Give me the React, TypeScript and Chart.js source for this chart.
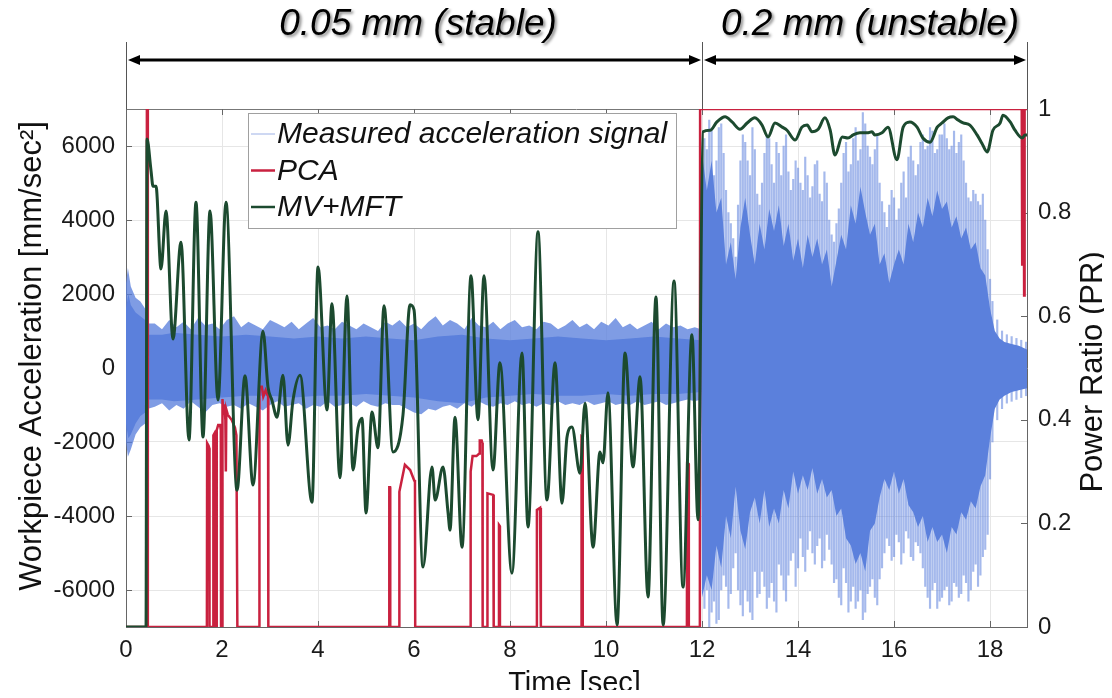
import React, { useEffect, useRef } from "react";
import { Chart, registerables } from "chart.js";

Chart.register(...registerables);

const W = 1096;
const H = 682;
const FONT = "'Liberation Sans', Arial, Helvetica, sans-serif";

// Axis ticks
const xTicks = [0, 2, 4, 6, 8, 10, 12, 14, 16, 18];
const accTicks = [-6000, -4000, -2000, 0, 2000, 4000, 6000];
const prTicks = [0, 0.2, 0.4, 0.6, 0.8, 1];
const X_MAX = 18.77;

// Region annotations (time [sec])
const regions = [
  { label: "0.05 mm (stable)", from: 0, to: 12 },
  { label: "0.2 mm (unstable)", from: 12, to: X_MAX },
];

// MV+MFT power ratio: [time, PR]
const mvPoints: [number, number][] = [
  [0, 0], [0.417, 0], [0.4375, 0.942], [0.52, 0.882], [0.5625, 0.851], [0.625, 0.851],
  [0.729, 0.691], [0.833, 0.803], [0.979, 0.556], [1.146, 0.743], [1.3125, 0.361],
  [1.458, 0.82], [1.604, 0.367], [1.75, 0.803], [1.917, 0.438], [2.083, 0.82],
  [2.3125, 0.264], [2.479, 0.485], [2.646, 0.274], [2.854, 0.571], [2.958, 0.463],
  [3.04, 0.438], [3.146, 0.405], [3.27, 0.486], [3.375, 0.351], [3.479, 0.438],
  [3.625, 0.486], [3.875, 0.241], [4.0, 0.695], [4.1875, 0.419], [4.29, 0.624],
  [4.458, 0.288], [4.604, 0.639], [4.729, 0.303], [4.833, 0.384], [4.917, 0.403],
  [5.0, 0.22], [5.125, 0.415], [5.25, 0.346], [5.375, 0.62], [5.5625, 0.338],
  [5.77, 0.409], [5.917, 0.622], [6.0, 0.612], [6.1875, 0.116], [6.375, 0.309],
  [6.44, 0.245], [6.604, 0.309], [6.71, 0.22], [6.75, 0.187], [6.854, 0.405],
  [7.0, 0.154], [7.1875, 0.678], [7.333, 0.4], [7.458, 0.678], [7.646, 0.303],
  [7.79, 0.51], [8.04, 0.104], [8.25, 0.529], [8.375, 0.193], [8.583, 0.763],
  [8.77, 0.245], [8.9375, 0.51], [9.083, 0.239], [9.1875, 0.367], [9.29, 0.386],
  [9.458, 0.297], [9.5625, 0.432], [9.73, 0.154], [9.875, 0.338], [9.9375, 0.317],
  [10.04, 0.452], [10.23, 0.004], [10.396, 0.529], [10.5625, 0.309], [10.71, 0.483],
  [10.875, 0.058], [11.04, 0.637], [11.19, 0.004], [11.417, 0.668], [11.604, 0.077],
  [11.79, 0.564], [11.917, 0.207], [12.02, 0.956],
  [12.17, 0.959], [12.31, 0.975], [12.48, 0.985], [12.625, 0.975], [12.79, 0.961],
  [12.94, 0.973], [13.1, 0.983], [13.25, 0.969], [13.375, 0.946], [13.52, 0.973],
  [13.67, 0.965], [13.77, 0.959], [13.94, 0.94], [14.08, 0.965], [14.19, 0.969],
  [14.29, 0.956], [14.42, 0.961], [14.56, 0.983], [14.67, 0.959], [14.77, 0.911],
  [14.92, 0.946], [15.04, 0.944], [15.15, 0.95], [15.29, 0.954], [15.44, 0.954],
  [15.54, 0.956], [15.6, 0.95], [15.75, 0.954], [15.875, 0.965], [16.06, 0.902],
  [16.19, 0.965], [16.33, 0.975], [16.48, 0.965], [16.6, 0.944], [16.75, 0.936],
  [16.9, 0.965], [17.0, 0.973], [17.125, 0.983], [17.23, 0.985], [17.33, 0.979],
  [17.44, 0.973], [17.58, 0.969], [17.73, 0.95], [17.83, 0.934], [17.94, 0.917],
  [18.06, 0.959], [18.21, 0.973], [18.27, 0.988], [18.42, 0.975], [18.52, 0.959],
  [18.67, 0.944], [18.73, 0.95], [18.77, 0.95],
];

// PCA power ratio: [time, PR]
const pcaPoints: [number, number][] = [
  [0, 0], [0.43, 0], [0.435, 1], [0.45, 1], [0.455, 0],
  [1.685, 0], [1.69, 0.355], [1.72, 0.35], [1.735, 0.345], [1.74, 0],
  [1.815, 0], [1.82, 0.37], [1.85, 0.375], [1.865, 0.37], [1.87, 0],
  [1.885, 0], [1.89, 0.38], [1.92, 0.39], [1.96, 0.39], [1.975, 0.38], [1.98, 0],
  [2.005, 0], [2.01, 0.44], [2.03, 0.41], [2.05, 0.43], [2.07, 0.4], [2.08, 0.3],
  [2.09, 0.42], [2.12, 0.41], [2.2, 0.4], [2.27, 0.385], [2.3, 0.37], [2.32, 0],
  [2.775, 0], [2.78, 0.464], [2.83, 0.464], [2.86, 0.445], [2.91, 0.457], [2.96, 0.445], [2.965, 0],
  [5.48, 0], [5.485, 0.27], [5.5, 0.27], [5.505, 0],
  [5.69, 0], [5.695, 0.261], [5.81, 0.313], [5.92, 0.303], [6.0, 0.284], [6.02, 0.28], [6.025, 0],
  [7.175, 0], [7.18, 0.3], [7.22, 0.33], [7.3, 0.33], [7.36, 0.335], [7.37, 0.36], [7.41, 0.36], [7.425, 0.355], [7.43, 0],
  [7.525, 0], [7.53, 0.258], [7.65, 0.255], [7.66, 0],
  [7.765, 0], [7.77, 0.197], [7.785, 0.195], [7.79, 0],
  [8.555, 0], [8.56, 0.226], [8.625, 0.23], [8.64, 0.225], [8.645, 0],
  [9.485, 0], [9.49, 0.367], [9.51, 0.365], [9.515, 0],
  [11.685, 0], [11.69, 0.316], [11.72, 0.315], [11.725, 0],
  [11.955, 0], [11.96, 1], [18.66, 1], [18.67, 0.7], [18.68, 1], [18.69, 0.72],
  [18.7, 1], [18.71, 0.64], [18.72, 1], [18.73, 1], [18.77, 1],
];

// Measured acceleration, dense core envelope: [time, upper, lower] (mm/sec^2)
const coreBand: [number, number, number][] = [
  [0, 1600, -1500], [0.05, 2000, -1900], [0.1, 1700, -1800], [0.2, 1500, -1500],
  [0.3, 1400, -1300], [0.4, 1300, -1200], [0.46, 900, -850], [0.75, 900, -850],
  [1.0, 950, -900], [1.5, 900, -850], [2.0, 850, -800], [2.5, 900, -750],
  [3.0, 850, -750], [3.5, 800, -800], [4.0, 850, -750], [4.5, 800, -750],
  [5.0, 850, -700], [5.5, 800, -750], [6.0, 750, -800], [6.5, 850, -900],
  [7.0, 900, -950], [7.5, 800, -800], [8.0, 750, -750], [8.5, 800, -700],
  [9.0, 850, -750], [9.5, 800, -750], [10.0, 750, -700], [10.5, 800, -750],
  [11.0, 850, -700], [11.5, 800, -700], [11.98, 750, -650],
  [12.0, 5800, -6200], [12.1, 4800, -5600], [12.2, 5600, -6000], [12.3, 4200, -4800],
  [12.4, 4600, -5400], [12.5, 2800, -4000], [12.6, 3400, -4600], [12.7, 2400, -3200],
  [12.8, 3800, -4400], [12.9, 4600, -4900], [13.0, 3600, -3900], [13.1, 2800, -3500],
  [13.2, 3900, -4200], [13.3, 3200, -3300], [13.4, 4300, -4300], [13.5, 3700, -3800],
  [13.6, 4400, -4200], [13.7, 3300, -3300], [13.8, 3900, -3800], [13.9, 2900, -2800],
  [14.0, 3500, -3400], [14.1, 2700, -2900], [14.2, 3600, -3300], [14.3, 3000, -2700],
  [14.4, 3500, -3400], [14.5, 2800, -3000], [14.6, 3200, -3500], [14.7, 2200, -3300],
  [14.8, 2900, -4000], [14.9, 3600, -3800], [15.0, 3200, -4600], [15.1, 4400, -4800],
  [15.2, 3900, -5300], [15.3, 4900, -5000], [15.4, 4200, -5500], [15.5, 3600, -4400],
  [15.6, 3900, -4200], [15.7, 2800, -3500], [15.8, 3100, -3000], [15.9, 2300, -3300],
  [16.0, 2800, -2800], [16.1, 3200, -3400], [16.2, 2800, -3000], [16.3, 3900, -3700],
  [16.4, 3400, -3900], [16.5, 4200, -4300], [16.6, 3800, -4000], [16.7, 4600, -4700],
  [16.8, 4100, -4300], [16.9, 4800, -4700], [17.0, 4300, -4500], [17.1, 4500, -5000],
  [17.2, 3800, -4300], [17.3, 4100, -4500], [17.4, 3500, -3900], [17.5, 3800, -4100],
  [17.6, 3200, -3600], [17.7, 3400, -3800], [17.8, 2700, -3200], [17.9, 2500, -2900],
  [18.0, 1600, -1900], [18.1, 1000, -1100], [18.2, 800, -850], [18.3, 700, -750],
  [18.45, 650, -650], [18.6, 600, -600], [18.77, 500, -550],
];

// Measured acceleration, bristly edge in the stable cut: [time, upper, lower]
const fuzzBand: [number, number, number][] = [
  [0, 2300, -2000], [0.04, 2700, -2400], [0.1, 2200, -2200], [0.2, 1900, -1800],
  [0.3, 1800, -1600], [0.4, 1600, -1500], [0.46, 1200, -1100],
  [0.6, 1200, -1050], [0.75, 1050, -950], [0.9, 1300, -1150], [1.05, 1100, -1000],
  [1.2, 1250, -1100], [1.35, 1050, -900], [1.5, 1350, -1050], [1.65, 1150, -1200],
  [1.8, 1200, -1000], [1.95, 1050, -950], [2.1, 1300, -1050], [2.25, 1400, -1000],
  [2.4, 1100, -1100], [2.55, 1250, -950], [2.7, 1150, -1050], [2.85, 1050, -1150],
  [3.0, 1300, -1000], [3.15, 1200, -900], [3.3, 1100, -1050], [3.45, 1250, -1000],
  [3.6, 1050, -950], [3.75, 1200, -1100], [3.9, 1350, -1000], [4.05, 1100, -1050],
  [4.2, 1150, -900], [4.35, 1050, -1050], [4.5, 1250, -1000], [4.65, 1150, -950],
  [4.8, 1050, -1050], [4.95, 1200, -900], [5.1, 1100, -1000], [5.25, 1000, -1050],
  [5.4, 1250, -950], [5.55, 1150, -1000], [5.7, 1300, -1000], [5.85, 1100, -1100],
  [6.0, 1200, -1200], [6.15, 1050, -1250], [6.3, 1250, -1100], [6.45, 1400, -1150],
  [6.6, 1150, -1050], [6.75, 1300, -1000], [6.9, 1200, -1100], [7.05, 1050, -950],
  [7.2, 1350, -1050], [7.35, 1150, -900], [7.5, 1100, -1000], [7.65, 1250, -1050],
  [7.8, 1050, -950], [7.95, 1200, -1000], [8.1, 1300, -900], [8.25, 1100, -1000],
  [8.4, 1150, -950], [8.55, 1050, -1050], [8.7, 1250, -950], [8.85, 1200, -1000],
  [9.0, 1050, -900], [9.15, 1150, -1000], [9.3, 1300, -950], [9.45, 1100, -1000],
  [9.6, 1200, -900], [9.75, 1050, -1000], [9.9, 1250, -950], [10.05, 1150, -900],
  [10.2, 1350, -1000], [10.35, 1100, -950], [10.5, 1200, -1000], [10.65, 1050, -900],
  [10.8, 1150, -1000], [10.95, 1250, -950], [11.1, 1050, -900], [11.25, 1200, -1000],
  [11.4, 1100, -950], [11.55, 1150, -900], [11.7, 1050, -850], [11.85, 1100, -900],
  [11.98, 1050, -850],
];

// Measured acceleration, spike extremes in the unstable cut: [time, max, min]
const spikes: [number, number, number][] = [
  [12.05, 6200, -6500], [12.1, 5900, -6000], [12.15, 6700, -7000], [12.2, 6400, -6600],
  [12.25, 5200, -6300], [12.3, 5600, -6900], [12.35, 6500, -6800], [12.4, 6600, -6000],
  [12.45, 5800, -5600], [12.5, 4800, -5900], [12.55, 4200, -6500], [12.6, 3900, -6100],
  [12.65, 3500, -5400], [12.7, 3000, -5000], [12.75, 4400, -6000], [12.8, 5600, -6400],
  [12.85, 6300, -6700], [12.9, 6100, -6000], [12.95, 5600, -6300], [13.0, 5200, -6600],
  [13.05, 6500, -6800], [13.1, 5900, -5500], [13.15, 4700, -6200], [13.2, 4400, -6100],
  [13.25, 5000, -5500], [13.3, 5800, -5900], [13.35, 6300, -6500], [13.4, 6200, -6200],
  [13.45, 5500, -5800], [13.5, 5000, -6300], [13.55, 6100, -6600], [13.6, 5800, -5300],
  [13.65, 5200, -5600], [13.7, 6000, -6000], [13.75, 6300, -6300], [13.8, 5300, -5600],
  [13.85, 4800, -5200], [13.9, 5100, -5000], [13.95, 5600, -5900], [14.0, 5400, -5400],
  [14.05, 5000, -4600], [14.1, 4800, -5100], [14.15, 5700, -5500], [14.2, 5200, -4900],
  [14.25, 4600, -4400], [14.3, 4900, -5000], [14.35, 5500, -5300], [14.4, 5600, -4800],
  [14.45, 4700, -4600], [14.5, 4500, -5400], [14.55, 5300, -5200], [14.6, 5000, -4500],
  [14.65, 4000, -4900], [14.7, 3600, -5300], [14.75, 3400, -5800], [14.8, 3900, -5700],
  [14.85, 4300, -6200], [14.9, 5000, -6400], [14.95, 5800, -5400], [15.0, 6100, -5800],
  [15.05, 5300, -6600], [15.1, 5500, -6300], [15.15, 6200, -5900], [15.2, 6500, -6500],
  [15.25, 5600, -6300], [15.3, 5900, -6000], [15.35, 6900, -6800], [15.4, 6600, -6600],
  [15.45, 6000, -6100], [15.5, 5700, -5900], [15.55, 5500, -5700], [15.6, 5900, -6200],
  [15.65, 6300, -6400], [15.7, 5000, -5700], [15.75, 4500, -5400], [15.8, 4200, -5000],
  [15.85, 3800, -4600], [15.9, 4400, -4800], [15.95, 4800, -5200], [16.0, 4600, -5100],
  [16.05, 4000, -4500], [16.1, 4300, -4700], [16.15, 5000, -5300], [16.2, 5300, -5000],
  [16.25, 4600, -4400], [16.3, 5700, -4600], [16.35, 6000, -5100], [16.4, 5600, -5200],
  [16.45, 5200, -4700], [16.5, 5500, -4800], [16.55, 6100, -5000], [16.6, 6300, -5400],
  [16.65, 5900, -5900], [16.7, 6000, -6200], [16.75, 6500, -6500], [16.8, 6400, -6000],
  [16.85, 5800, -5800], [16.9, 5900, -6500], [16.95, 6300, -6300], [17.0, 6300, -6200],
  [17.05, 6600, -6000], [17.1, 6200, -5900], [17.15, 5900, -6400], [17.2, 6000, -6300],
  [17.25, 6400, -5800], [17.3, 5800, -5900], [17.35, 6100, -6200], [17.4, 6300, -6100],
  [17.45, 5600, -5600], [17.5, 5000, -5800], [17.55, 4600, -6300], [17.6, 4500, -6000],
  [17.65, 4800, -5500], [17.7, 4700, -5300], [17.75, 4500, -5900], [17.8, 4400, -5600],
  [17.85, 4700, -5100], [17.9, 4000, -4900], [17.95, 3200, -4500], [18.0, 2400, -3000],
  [18.05, 1800, -2000], [18.15, 1300, -1400], [18.25, 1000, -1100], [18.35, 900, -950],
  [18.45, 850, -900], [18.55, 800, -850], [18.65, 750, -800], [18.75, 700, -750],
];

const BLUE = "#5b80dc";
const RED = "#c9213f";
const GREEN = "#1c4a2f";

const legendItems = [
  { label: "Measured acceleration signal", color: "#9db1e6", width: 1 },
  { label: "PCA", color: RED, width: 2.5 },
  { label: "MV+MFT", color: GREEN, width: 2.5 },
];

const overlay = {
  id: "overlay",
  beforeDatasetsDraw(chart: any) {
    const { ctx, chartArea: a, scales } = chart;
    ctx.save();
    ctx.strokeStyle = "#777";
    ctx.lineWidth = 1;
    ctx.beginPath();
    ctx.moveTo(a.left, a.top + 0.5);
    ctx.lineTo(a.right, a.top + 0.5);
    ctx.stroke();
    ctx.strokeStyle = "#666";
    ctx.beginPath();
    xTicks.forEach((v) => {
      const px = Math.round(scales.x.getPixelForValue(v)) + 0.5;
      ctx.moveTo(px, a.bottom);
      ctx.lineTo(px, a.bottom - 6);
      ctx.moveTo(px, a.top);
      ctx.lineTo(px, a.top + 6);
    });
    accTicks.forEach((v) => {
      const py = Math.round(scales.y.getPixelForValue(v)) + 0.5;
      ctx.moveTo(a.left, py);
      ctx.lineTo(a.left + 6, py);
    });
    prTicks.forEach((v) => {
      const py = Math.round(scales.y1.getPixelForValue(v)) + 0.5;
      ctx.moveTo(a.right, py);
      ctx.lineTo(a.right - 6, py);
    });
    ctx.stroke();
    ctx.restore();
  },
  afterDraw(chart: any) {
    const { ctx, chartArea: a, scales } = chart;
    ctx.save();

    // Legend box
    const lx = a.left + 122;
    const ly = a.top + 4;
    const lw = 428;
    const lh = 115;
    ctx.fillStyle = "#fff";
    ctx.fillRect(lx, ly, lw, lh);
    ctx.strokeStyle = "#a0a0a0";
    ctx.lineWidth = 1;
    ctx.strokeRect(lx + 0.5, ly + 0.5, lw, lh);
    ctx.font = `italic 30px ${FONT}`;
    ctx.textBaseline = "middle";
    ctx.textAlign = "left";
    legendItems.forEach((it, i) => {
      const cy = ly + 21 + i * 36.5;
      ctx.strokeStyle = it.color;
      ctx.lineWidth = it.width;
      ctx.beginPath();
      ctx.moveTo(lx + 3, cy);
      ctx.lineTo(lx + 27, cy);
      ctx.stroke();
      ctx.fillStyle = "#111";
      ctx.fillText(it.label, lx + 29, cy + 1);
    });

    // Region arrows and labels
    const arrowY = 52;
    const edges = [0, 12, X_MAX].map((v) => scales.x.getPixelForValue(v));
    ctx.strokeStyle = "#555";
    ctx.lineWidth = 1;
    ctx.beginPath();
    edges.forEach((e) => {
      const px = Math.round(e) + 0.5;
      ctx.moveTo(px, 34);
      ctx.lineTo(px, a.top);
    });
    ctx.stroke();
    const head = (x: number, dir: number) => {
      ctx.beginPath();
      ctx.moveTo(x, arrowY);
      ctx.lineTo(x + dir * 12, arrowY - 5);
      ctx.lineTo(x + dir * 12, arrowY + 5);
      ctx.closePath();
      ctx.fill();
    };
    regions.forEach((r) => {
      const x0 = scales.x.getPixelForValue(r.from) + 2;
      const x1 = scales.x.getPixelForValue(r.to) - 1;
      ctx.strokeStyle = "#000";
      ctx.fillStyle = "#000";
      ctx.lineWidth = 3;
      ctx.beginPath();
      ctx.moveTo(x0 + 6, arrowY);
      ctx.lineTo(x1 - 6, arrowY);
      ctx.stroke();
      head(x0, 1);
      head(x1, -1);
    });
    ctx.font = `italic 37px ${FONT}`;
    ctx.textAlign = "center";
    ctx.textBaseline = "middle";
    ctx.shadowColor = "rgba(0,0,0,0.45)";
    ctx.shadowOffsetX = 2;
    ctx.shadowOffsetY = 2;
    ctx.shadowBlur = 3;
    ctx.fillStyle = "#000";
    ctx.fillText(regions[0].label, 410, 17);
    ctx.fillText(regions[1].label, 862, 17);
    ctx.shadowColor = "transparent";
    ctx.shadowBlur = 0;
    ctx.shadowOffsetX = 0;
    ctx.shadowOffsetY = 0;

    // Axis titles
    ctx.fillStyle = "#111";
    ctx.textAlign = "center";
    ctx.textBaseline = "middle";
    ctx.font = `29px ${FONT}`;
    ctx.fillText("Time [sec]", (a.left + a.right) / 2 - 2, 676);
    ctx.font = `31px ${FONT}`;
    ctx.save();
    ctx.translate(24, (a.top + a.bottom) / 2);
    ctx.rotate(-Math.PI / 2);
    ctx.fillText("Workpiece Acceleration [mm/sec²]", 12, 0);
    ctx.restore();
    ctx.save();
    ctx.translate(1085, (a.top + a.bottom) / 2);
    ctx.rotate(-Math.PI / 2);
    ctx.fillText("Power Ratio (PR)", -4, 0);
    ctx.restore();

    ctx.restore();
  },
};

export default function App() {
  const ref = useRef<HTMLCanvasElement>(null);

  useEffect(() => {
    const canvas = ref.current;
    if (!canvas) return;
    Chart.defaults.font.family = FONT;

    const chart = new Chart(canvas, {
      type: "line",
      data: {
        datasets: [
          {
            label: "MV+MFT",
            data: mvPoints.map(([x, y]) => ({ x, y })),
            yAxisID: "y1",
            borderColor: GREEN,
            borderWidth: 3,
            pointRadius: 0,
            cubicInterpolationMode: "monotone",
            fill: false,
            order: 0,
          },
          {
            label: "PCA",
            data: pcaPoints.map(([x, y]) => ({ x, y })),
            yAxisID: "y1",
            borderColor: RED,
            borderWidth: 2.5,
            pointRadius: 0,
            tension: 0,
            fill: false,
            order: 1,
          },
          {
            label: "coreHi",
            data: coreBand.map(([x, hi]) => ({ x, y: hi })),
            yAxisID: "y",
            borderWidth: 0,
            borderColor: "rgba(0,0,0,0)",
            pointRadius: 0,
            fill: false,
            order: 3,
          },
          {
            label: "coreLo",
            data: coreBand.map(([x, , lo]) => ({ x, y: lo })),
            yAxisID: "y",
            borderWidth: 0,
            borderColor: "rgba(0,0,0,0)",
            backgroundColor: BLUE,
            pointRadius: 0,
            fill: 2,
            order: 3,
          },
          {
            label: "fuzzHi",
            data: fuzzBand.map(([x, hi]) => ({ x, y: hi })),
            yAxisID: "y",
            borderWidth: 0,
            borderColor: "rgba(0,0,0,0)",
            pointRadius: 0,
            fill: false,
            order: 5,
          },
          {
            label: "fuzzLo",
            data: fuzzBand.map(([x, , lo]) => ({ x, y: lo })),
            yAxisID: "y",
            borderWidth: 0,
            borderColor: "rgba(0,0,0,0)",
            backgroundColor: "rgba(91,128,220,0.78)",
            pointRadius: 0,
            fill: 4,
            order: 5,
          },
          {
            type: "bar",
            label: "spikes",
            data: spikes.map(([x, hi, lo]) => ({ x, y: [lo, hi] })),
            yAxisID: "y",
            backgroundColor: "rgba(91,128,220,0.55)",
            borderWidth: 0,
            barThickness: 1.5,
            order: 4,
          } as any,
        ],
      },
      options: {
        animation: false,
        responsive: false,
        devicePixelRatio: 1,
        layout: { padding: { top: 101, left: 0, right: 0, bottom: 0 } },
        plugins: {
          legend: { display: false },
          tooltip: { enabled: false },
        },
        scales: {
          x: {
            type: "linear",
            min: 0,
            max: X_MAX,
            offset: false,
            afterBuildTicks: (s: any) => {
              s.ticks = xTicks.map((value) => ({ value }));
            },
            afterFit: (s: any) => {
              s.height = 63;
            },
            grid: { color: "#e6e6e6", drawTicks: false, offset: false },
            border: { color: "#666" },
            ticks: {
              padding: 9,
              autoSkip: false,
              maxRotation: 0,
              color: "#1a1a1a",
              font: { size: 24, family: FONT },
              callback: (v: any) => String(v),
            },
          },
          y: {
            type: "linear",
            position: "left",
            min: -7000,
            max: 7000,
            afterBuildTicks: (s: any) => {
              s.ticks = accTicks.map((value) => ({ value }));
            },
            afterFit: (s: any) => {
              s.width = 118;
            },
            grid: { color: "#e6e6e6", drawTicks: false },
            border: { color: "#666" },
            ticks: {
              padding: 11,
              color: "#1a1a1a",
              font: { size: 24, family: FONT },
              callback: (v: any) => String(v),
            },
          },
          y1: {
            type: "linear",
            position: "right",
            min: 0,
            max: 1,
            afterBuildTicks: (s: any) => {
              s.ticks = prTicks.map((value) => ({ value }));
            },
            afterFit: (s: any) => {
              s.width = 77;
            },
            grid: { display: false, drawTicks: false },
            border: { color: "#666" },
            ticks: {
              padding: 11,
              color: "#1a1a1a",
              font: { size: 24, family: FONT },
              callback: (v: any) => String(Math.round(v * 10) / 10),
            },
          },
        },
      },
      plugins: [overlay],
    } as any);

    return () => chart.destroy();
  }, []);

  return (
    <div style={{ width: W, height: H }}>
      <canvas ref={ref} width={W} height={H} style={{ display: "block", width: W, height: H }} />
    </div>
  );
}
